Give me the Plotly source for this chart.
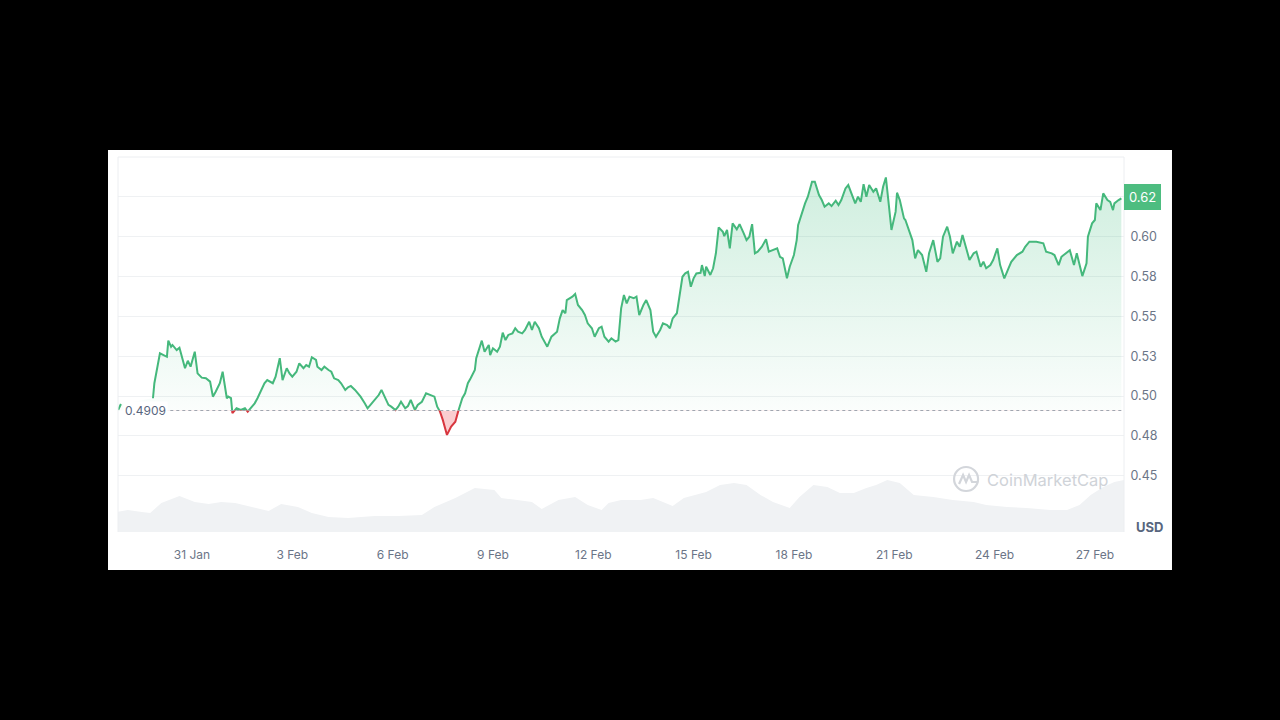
import pandas as pd
import plotly.graph_objects as go

# ---------------- data ----------------
BASE_DATE = pd.Timestamp("2024-01-28 00:00")
OPEN_PRICE = 0.4909

# tiny isolated segment at the very start (before a data gap)
pre_hours = [19, 21]
pre_price = [0.4912, 0.4950]

# main price series: hours since 28 Jan 00:00, price in USD
hours = [44, 45, 49, 51, 54, 55, 57, 58, 61, 63, 66, 67, 69, 71, 74, 76, 79, 82, 85, 87,
         89, 92, 94, 97, 98, 100, 101, 104, 107, 110, 112, 115, 117, 119, 122, 124, 126, 130, 132, 135,
         137, 140, 142, 144, 147, 149, 152, 154, 156, 158, 161, 162, 165, 167, 170, 172, 174, 177, 179, 182,
         184, 186, 189, 191, 193, 196, 198, 201, 203, 206, 208, 210, 213, 215, 218, 220, 222, 225, 227, 229,
         232, 234, 237, 240, 244, 246, 248, 250, 252, 255, 258, 261, 263, 266, 268, 270, 272, 274, 275, 276,
         278, 280, 282, 285, 286, 288, 291, 293, 295, 297, 299, 302, 304, 306, 309, 311, 314, 316, 318, 321,
         323, 327, 330, 334, 336, 338, 340, 341, 345, 347, 349, 352, 354, 356, 359, 361, 364, 366, 368, 371,
         373, 376, 378, 380, 382, 384, 386, 389, 391, 393, 396, 398, 401, 403, 405, 408, 410, 413, 415, 417,
         420, 422, 424, 426, 428, 430, 432, 434, 437, 438, 440, 441, 444, 446, 448, 450, 453, 454, 456, 458,
         460, 463, 465, 468, 470, 472, 474, 476, 478, 481, 484, 486, 489, 492, 494, 496, 499, 501, 504, 506,
         507, 510, 512, 514, 517, 519, 522, 524, 526, 529, 531, 534, 536, 538, 541, 543, 545, 548, 550, 552,
         554, 556, 558, 561, 563, 566, 568, 570, 572, 574, 577, 578, 580, 583, 584, 586, 589, 591, 593, 596,
         599, 601, 604, 607, 609, 611, 614, 616, 618, 621, 623, 625, 628, 630, 633, 635, 638, 640, 642, 645,
         647, 650, 652, 655, 658, 660, 664, 668, 670, 673, 678, 683, 685, 689, 691, 694, 696, 700, 702, 705,
         707, 711, 714, 715, 718, 720, 721, 724, 726, 729, 731, 733, 734, 737, 739]
price = [0.4986, 0.5080, 0.5268, 0.5257, 0.5246, 0.5347, 0.5309, 0.5320, 0.5288, 0.5303,
         0.5205, 0.5174, 0.5221, 0.5184, 0.5278, 0.5142, 0.5115, 0.5111, 0.5090, 0.4996,
         0.5027, 0.5080, 0.5152, 0.4986, 0.4996, 0.4986, 0.4892, 0.4923, 0.4912, 0.4923,
         0.4902, 0.4933, 0.4954, 0.4986, 0.5038, 0.5080, 0.5100, 0.5080, 0.5121, 0.5237,
         0.5100, 0.5174, 0.5142, 0.5121, 0.5152, 0.5205, 0.5174, 0.5194, 0.5184, 0.5243,
         0.5226, 0.5184, 0.5163, 0.5184, 0.5163, 0.5152, 0.5111, 0.5100, 0.5080, 0.5038,
         0.5055, 0.5063, 0.5038, 0.5017, 0.4996, 0.4954, 0.4923, 0.4954, 0.4975, 0.5006,
         0.5038, 0.4996, 0.4944, 0.4933, 0.4912, 0.4933, 0.4964, 0.4923, 0.4937, 0.4975,
         0.4912, 0.4944, 0.4964, 0.5017, 0.5000, 0.4996, 0.4933, 0.4902, 0.4850, 0.4756,
         0.4808, 0.4839, 0.4902, 0.4986, 0.5017, 0.5080, 0.5111, 0.5142, 0.5163, 0.5237,
         0.5288, 0.5347, 0.5278, 0.5320, 0.5257, 0.5299, 0.5278, 0.5309, 0.5397, 0.5351,
         0.5383, 0.5393, 0.5425, 0.5403, 0.5393, 0.5414, 0.5466, 0.5414, 0.5466, 0.5425,
         0.5372, 0.5309, 0.5372, 0.5403, 0.5487, 0.5539, 0.5519, 0.5602, 0.5623, 0.5640,
         0.5571, 0.5539, 0.5508, 0.5456, 0.5425, 0.5372, 0.5425, 0.5435, 0.5372, 0.5341,
         0.5362, 0.5341, 0.5351, 0.5550, 0.5633, 0.5581, 0.5623, 0.5613, 0.5623, 0.5508,
         0.5571, 0.5602, 0.5539, 0.5403, 0.5372, 0.5414, 0.5456, 0.5445, 0.5425, 0.5487,
         0.5519, 0.5644, 0.5748, 0.5769, 0.5779, 0.5685, 0.5738, 0.5769, 0.5773, 0.5821,
         0.5752, 0.5811, 0.5759, 0.5801, 0.5895, 0.6058, 0.6030, 0.6003, 0.6041, 0.5926,
         0.6083, 0.6045, 0.6078, 0.6020, 0.5978, 0.5999, 0.6078, 0.5895, 0.5905, 0.5936,
         0.5983, 0.5905, 0.5915, 0.5926, 0.5873, 0.5863, 0.5738, 0.5811, 0.5884, 0.5978,
         0.6072, 0.6156, 0.6208, 0.6250, 0.6344, 0.6344, 0.6260, 0.6229, 0.6187, 0.6208,
         0.6191, 0.6225, 0.6198, 0.6229, 0.6302, 0.6323, 0.6281, 0.6208, 0.6250, 0.6218,
         0.6329, 0.6250, 0.6323, 0.6281, 0.6302, 0.6218, 0.6312, 0.6371, 0.6208, 0.6041,
         0.6156, 0.6275, 0.6229, 0.6114, 0.6104, 0.6052, 0.5978, 0.5863, 0.5915, 0.5884,
         0.5779, 0.5895, 0.5978, 0.5842, 0.5863, 0.5999, 0.6062, 0.5999, 0.5895, 0.5968,
         0.5936, 0.6010, 0.5915, 0.5853, 0.5895, 0.5905, 0.5811, 0.5842, 0.5801, 0.5821,
         0.5853, 0.5926, 0.5821, 0.5738, 0.5801, 0.5842, 0.5884, 0.5905, 0.5936, 0.5968,
         0.5968, 0.5958, 0.5905, 0.5895, 0.5884, 0.5821, 0.5873, 0.5905, 0.5915, 0.5821,
         0.5895, 0.5752, 0.5832, 0.5999, 0.6083, 0.6104, 0.6208, 0.6166, 0.6271, 0.6229,
         0.6218, 0.6166, 0.6208, 0.6229, 0.6240]

# trading volume (relative units)
vol_hours = [18, 26, 36, 42, 50, 63, 74, 84, 93, 103, 112, 127, 136, 148, 158, 170, 184, 203, 220, 237,
             246, 261, 275, 289, 294, 304, 316, 323, 335, 347, 356, 366, 371, 380, 394, 403, 417, 425, 441, 451,
             461, 470, 480, 489, 501, 508, 518, 528, 537, 547, 556, 563, 571, 580, 590, 604, 618, 633, 642, 657,
             671, 688, 700, 709, 717, 726, 734, 741]
volume = [20, 22, 20, 19, 29, 36, 30, 28, 30, 29, 26, 21, 28, 25, 19, 15, 14, 16, 16, 17,
          25, 34, 44, 42, 34, 32, 30, 23, 32, 35, 27, 22, 29, 32, 32, 34, 26, 34, 40, 47,
          49, 47, 37, 30, 24, 35, 47, 45, 39, 39, 44, 47, 52, 49, 37, 35, 32, 30, 27, 25,
          24, 22, 22, 27, 37, 45, 50, 52]

tick_dates = ["2024-01-31", "2024-02-03", "2024-02-06", "2024-02-09", "2024-02-12",
              "2024-02-15", "2024-02-18", "2024-02-21", "2024-02-24", "2024-02-27"]
tick_labels = ["31 Jan", "3 Feb", "6 Feb", "9 Feb", "12 Feb",
               "15 Feb", "18 Feb", "21 Feb", "24 Feb", "27 Feb"]

# the 0.625 gridline label is covered by the current-price badge ("0.62")
y_tickvals = [0.45, 0.475, 0.50, 0.525, 0.55, 0.575, 0.60, 0.625]
y_ticktext = ["0.45", "0.48", "0.50", "0.53", "0.55", "0.58", "0.60", ""]
badge_text = "0.62"

# ---------------- styling ----------------
GREEN = "#45b87c"
BADGE = "#4dbd80"
RED = "#d8363f"
GRAY = "#6b7587"
FONT = "Inter"

Y_MIN, Y_MAX = 0.4147, 0.6499
X_START_H, X_END_H = 18.9, 740.9
split = (OPEN_PRICE - Y_MIN) / (Y_MAX - Y_MIN)


def to_time(h_list):
    return list(BASE_DATE + pd.to_timedelta(h_list, unit="h"))


t_pre = to_time(pre_hours)
t_main = to_time(hours)
t_vol = to_time(vol_hours)

x_green = t_pre + [t_pre[-1]] + t_main
y_green = pre_price + [None] + price

fig = go.Figure()

# anchor trace for main axis
fig.add_trace(go.Scatter(x=[t_main[0], t_main[-1]], y=[OPEN_PRICE, OPEN_PRICE], xaxis="x", yaxis="y",
                         mode="lines", line=dict(width=0), hoverinfo="skip", showlegend=False))

# volume area (bottom band)
fig.add_trace(go.Scatter(x=t_vol, y=volume, xaxis="x", yaxis="y4", mode="lines",
                         line=dict(width=0, color="#f0f2f4"), fill="tozeroy",
                         fillcolor="#f0f2f4", hoverinfo="skip", showlegend=False))

# green part (above open price), clipped to upper sub-area
fig.add_trace(go.Scatter(x=x_green, y=y_green, xaxis="x", yaxis="y2", mode="lines",
                         line=dict(color=GREEN, width=2), fill="tozeroy",
                         fillgradient=dict(type="vertical",
                                           colorscale=[[0, "rgba(40,180,110,0.02)"],
                                                       [1, "rgba(40,180,110,0.22)"]],
                                           start=OPEN_PRICE, stop=0.635),
                         connectgaps=False, hoverinfo="skip", showlegend=False))

# red part (below open price), clipped to lower sub-area
fig.add_trace(go.Scatter(x=t_main, y=[OPEN_PRICE] * len(t_main), xaxis="x", yaxis="y3",
                         mode="lines", line=dict(width=0), hoverinfo="skip", showlegend=False))
fig.add_trace(go.Scatter(x=t_main, y=price, xaxis="x", yaxis="y3", mode="lines",
                         line=dict(color=RED, width=2), fill="tonexty",
                         fillcolor="rgba(234,57,67,0.25)", hoverinfo="skip", showlegend=False))

shapes = [
    # white card
    dict(type="rect", xref="paper", yref="paper", x0=-0.00994, x1=1.0477, y0=-0.1013, y1=1.0187,
         fillcolor="white", line=dict(width=0), layer="below"),
    # plot frame lines
    dict(type="line", xref="paper", yref="paper", x0=0, x1=0, y0=0, y1=1,
         line=dict(color="#eceef1", width=1)),
    dict(type="line", xref="paper", yref="paper", x0=1, x1=1, y0=0, y1=1,
         line=dict(color="#eceef1", width=1)),
    dict(type="line", xref="paper", yref="paper", x0=0, x1=1, y0=1, y1=1,
         line=dict(color="#eceef1", width=1)),
    # dotted open-price line
    dict(type="line", xref="paper", yref="y", x0=0.052, x1=1, y0=OPEN_PRICE, y1=OPEN_PRICE,
         line=dict(color="#a0a6b0", width=1, dash="dot")),
    # watermark logo
    dict(type="circle", xref="paper", yref="paper", xsizemode="pixel", ysizemode="pixel",
         xanchor=0.843, yanchor=0.1413, x0=-12, x1=12, y0=-12, y1=12,
         line=dict(color="#d3d6db", width=2.2)),
    dict(type="path", xref="paper", yref="paper", xsizemode="pixel", ysizemode="pixel",
         xanchor=0.843, yanchor=0.1413, path="M -7,-5 L -3,4 L 0,-3 L 3,4 L 6,-3 L 12,-3",
         line=dict(color="#d3d6db", width=2.2)),
]

annotations = [
    dict(text="0.4909", xref="paper", yref="y", x=0.005, y=OPEN_PRICE, xanchor="left",
         yanchor="middle", showarrow=False, font=dict(family=FONT, size=12, color="#58667e"),
         bgcolor="white"),
    dict(text=badge_text, xref="paper", yref="y", x=1.0, y=price[-1] + 0.001, xanchor="left",
         yanchor="middle", showarrow=False, font=dict(family=FONT, size=13, color="white"),
         bgcolor=BADGE, borderpad=5, bordercolor=BADGE, borderwidth=0),
    dict(text="<b>USD</b>", xref="paper", yref="paper", x=1.0258, y=0.013, xanchor="center",
         yanchor="middle", showarrow=False, font=dict(family=FONT, size=13, color="#58667e")),
    dict(text="CoinMarketCap", xref="paper", yref="paper", x=0.9235, y=0.1387, xanchor="center",
         yanchor="middle", showarrow=False, font=dict(family=FONT, size=16.5, color="#cfd3d8")),
]

fig.update_layout(
    width=1280, height=720,
    paper_bgcolor="black", plot_bgcolor="rgba(0,0,0,0)",
    margin=dict(l=118, r=156, t=157, b=188, pad=0),
    showlegend=False,
    font=dict(family=FONT, color=GRAY, size=12),
    xaxis=dict(type="date", range=[BASE_DATE + pd.Timedelta(hours=X_START_H),
                                   BASE_DATE + pd.Timedelta(hours=X_END_H)],
               tickvals=tick_dates, ticktext=tick_labels, showgrid=False, zeroline=False,
               showline=False, ticks="outside", ticklen=12, tickcolor="rgba(0,0,0,0)",
               tickfont=dict(family=FONT, size=12, color=GRAY), anchor="y"),
    yaxis=dict(domain=[0, 1], range=[Y_MIN, Y_MAX], side="right", tickvals=y_tickvals,
               ticktext=y_ticktext, showgrid=True, gridcolor="#eff1f3", gridwidth=1,
               zeroline=False, showline=False, ticks="outside", ticklen=3,
               tickcolor="rgba(0,0,0,0)", tickfont=dict(family=FONT, size=12.5, color=GRAY),
               anchor="x"),
    yaxis2=dict(domain=[split, 1], range=[OPEN_PRICE, Y_MAX], visible=False, anchor="x",
                showgrid=False, zeroline=False),
    yaxis3=dict(domain=[0, split], range=[Y_MIN, OPEN_PRICE], visible=False, anchor="x",
                showgrid=False, zeroline=False),
    yaxis4=dict(overlaying="y", range=[0, 375], visible=False, showgrid=False, zeroline=False),
    shapes=shapes,
    annotations=annotations,
)

fig.write_html("out.html", config={"displayModeBar": False},
               post_script="document.body.style.margin='0px';")
